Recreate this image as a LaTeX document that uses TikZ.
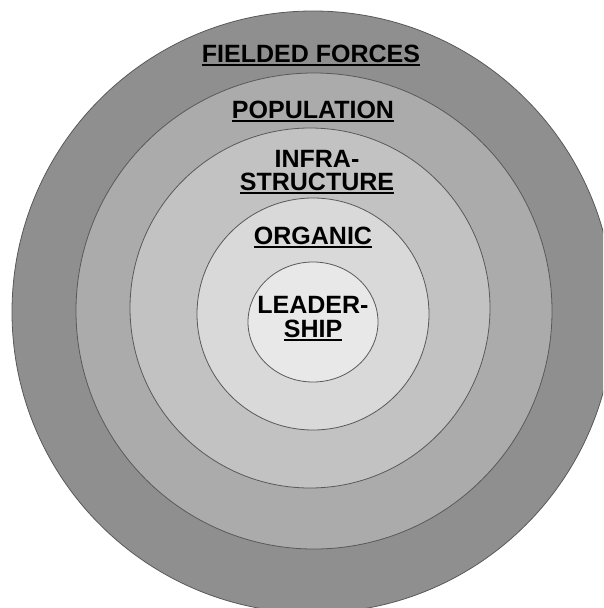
\documentclass[tikz,border=0pt]{standalone}
\usepackage{fontspec}
\setmainfont{Liberation Sans}
\usetikzlibrary{shapes.geometric}

\definecolor{ringA}{gray}{0.56}
\definecolor{ringB}{gray}{0.67}
\definecolor{ringC}{gray}{0.76}
\definecolor{ringD}{gray}{0.85}
\definecolor{ringE}{gray}{0.91}

% underlined label text
\newcommand{\ringul}[1]{\setbox0\hbox{#1}\rlap{\rule[-4pt]{\wd0}{2pt}}\box0}

\tikzset{
  ring/.style={circle, draw=black!65, line width=0.8pt, inner sep=0},
  lbl/.style={anchor=base, inner sep=0, text=black,
    font=\bfseries\fontsize{25}{24}\selectfont}
}

\begin{document}
\begin{tikzpicture}[x=1pt, y=-1pt]

      \useasboundingbox (0,0) rectangle (603,608);
      \fill[white] (0,0) rectangle (603,608);
      \clip (0,0) rectangle (603,608);

      % the rings, outside in
      \node[ring, fill=ringA, minimum size=602] (fielded) at (313,312) {};
      \node[ring, fill=ringB, minimum size=476] (population) at (314,311) {};
      \node[ring, fill=ringC, minimum size=360] (infra) at (310,308) {};
      \node[ring, fill=ringD, minimum size=232] (organic) at (313,314) {};
      \node[ellipse, draw=black!65, line width=0.8pt, fill=ringE,
            minimum width=130, minimum height=120, inner sep=0] (leader) at (313,322) {};

      % labels
      \node[lbl] (fieldedtxt) at (311,62) {\ringul{FIELDED FORCES}};
      \node[lbl] (populationtxt) at (313,118) {\ringul{POPULATION}};
      \node[lbl] (infratxt) at (317,167) {INFRA-};
      \node[lbl] (structtxt) at (317,190) {\ringul{STRUCTURE}};
      \node[lbl] (organictxt) at (313,244) {\ringul{ORGANIC}};
      \node[lbl] (leadertxt) at (313,313) {LEADER-};
      \node[lbl] (shiptxt) at (313,337) {\ringul{SHIP}};

\end{tikzpicture}
\end{document}
